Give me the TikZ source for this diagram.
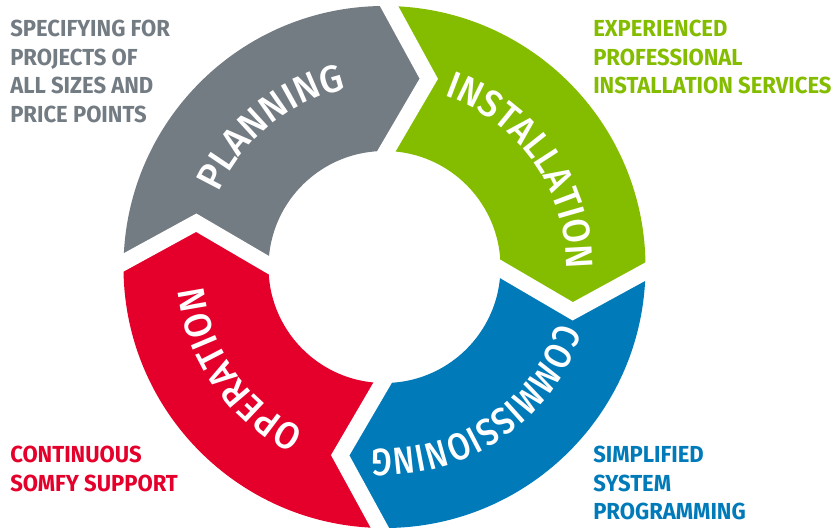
\documentclass[tikz,border=0pt]{standalone}
\usepackage{fontspec}
\usetikzlibrary{calc,decorations.text}
\newfontfamily\sidefont[FakeStretch=0.95]{Fira Sans}
\newfontfamily\ringfont[FakeStretch=0.93]{Fira Sans Medium}
\newfontfamily\ringfontp[FakeStretch=0.97]{Fira Sans Medium}
\newfontfamily\ringfontc[FakeStretch=0.85]{Fira Sans Medium}
\definecolor{cgray}{RGB}{115,123,131}
\definecolor{cgreen}{RGB}{132,189,0}
\definecolor{cred}{RGB}{228,0,43}
\definecolor{cblue}{RGB}{0,122,185}
\begin{document}
\begin{tikzpicture}[x=0.75pt,y=0.75pt,
  gapline/.style={draw=white,line width=12pt,line join=miter,miter limit=20},
  sidetext/.style={anchor=base west,inner sep=0pt,font=\sidefont\bfseries\fontsize{17.4}{20}\selectfont},
  ringdeco/.style={decorate,decoration={text along path,text align=center,text={#1}}}
]
\useasboundingbox (-384.5,-262) rectangle (452.5,267);
\def\Ro{261}
\def\Ri{116}
% chevron tips
\coordinate (tA) at ($(89:189)+(-1:41)$);
\coordinate (tB) at ($(-1:189)+(-91:41)$);
\coordinate (tC) at ($(-91:189)+(-181:41)$);
\coordinate (tD) at ($(179:189)+(89:41)$);
% segments
\fill[cgray] (179:\Ro) arc[start angle=179,end angle=89,radius=\Ro] -- (tA) -- (89:\Ri) arc[start angle=89,end angle=179,radius=\Ri] -- (tD) -- cycle;
\fill[cgreen] (89:\Ro) arc[start angle=89,end angle=-1,radius=\Ro] -- (tB) -- (-1:\Ri) arc[start angle=-1,end angle=89,radius=\Ri] -- (tA) -- cycle;
\fill[cblue] (-1:\Ro) arc[start angle=-1,end angle=-91,radius=\Ro] -- (tC) -- (-91:\Ri) arc[start angle=-91,end angle=-1,radius=\Ri] -- (tB) -- cycle;
\fill[cred] (269:\Ro) arc[start angle=269,end angle=179,radius=\Ro] -- (tD) -- (179:\Ri) arc[start angle=179,end angle=269,radius=\Ri] -- (tC) -- cycle;
% gaps
\draw[gapline] ($(tA)!1.3!(89:\Ro)$) -- (tA) -- ($(tA)!1.5!(89:\Ri)$);
\draw[gapline] ($(tB)!1.3!(-1:\Ro)$) -- (tB) -- ($(tB)!1.5!(-1:\Ri)$);
\draw[gapline] ($(tC)!1.3!(-91:\Ro)$) -- (tC) -- ($(tC)!1.5!(-91:\Ri)$);
\draw[gapline] ($(tD)!1.3!(179:\Ro)$) -- (tD) -- ($(tD)!1.5!(179:\Ri)$);
% ring labels
\path[ringdeco={|\ringfontp\fontsize{28.5}{30}\selectfont\color{white}|PLANNING}] (179:182) arc[start angle=179,end angle=79,radius=182];
\path[ringdeco={|\ringfont\fontsize{28.5}{30}\selectfont\color{white}|INSTALLATION}] (85:182) arc[start angle=85,end angle=-15,radius=182];
\path[ringdeco={|\ringfontc\fontsize{28.5}{30}\selectfont\color{white}|COMMISSIONING}] (-6:182) arc[start angle=-6,end angle=-106,radius=182];
\path[ringdeco={|\ringfont\fontsize{28.5}{30}\selectfont\color{white}|OPERATION}] (265:182) arc[start angle=265,end angle=165,radius=182];
% side texts
\node[sidetext,text=cgray] (g1) at (-374.5,231) {SPECIFYING FOR};
\node[sidetext,text=cgray] (g2) at (-374.5,202) {PROJECTS OF};
\node[sidetext,text=cgray] (g3) at (-374.5,174) {ALL SIZES AND};
\node[sidetext,text=cgray] (g4) at (-374.5,145) {PRICE POINTS};
\node[sidetext,text=cgreen] (e1) at (208.5,231) {EXPERIENCED};
\node[sidetext,text=cgreen] (e2) at (208.5,202) {PROFESSIONAL};
\node[sidetext,text=cgreen] (e3) at (208.5,174) {INSTALLATION SERVICES};
\node[sidetext,text=cred] (r1) at (-374.5,-195) {CONTINUOUS};
\node[sidetext,text=cred] (r2) at (-374.5,-224) {SOMFY SUPPORT};
\node[sidetext,text=cblue] (b1) at (208.5,-195.7) {SIMPLIFIED};
\node[sidetext,text=cblue] (b2) at (208.5,-224) {SYSTEM};
\node[sidetext,text=cblue] (b3) at (208.5,-252.3) {PROGRAMMING};
\end{tikzpicture}
\end{document}
